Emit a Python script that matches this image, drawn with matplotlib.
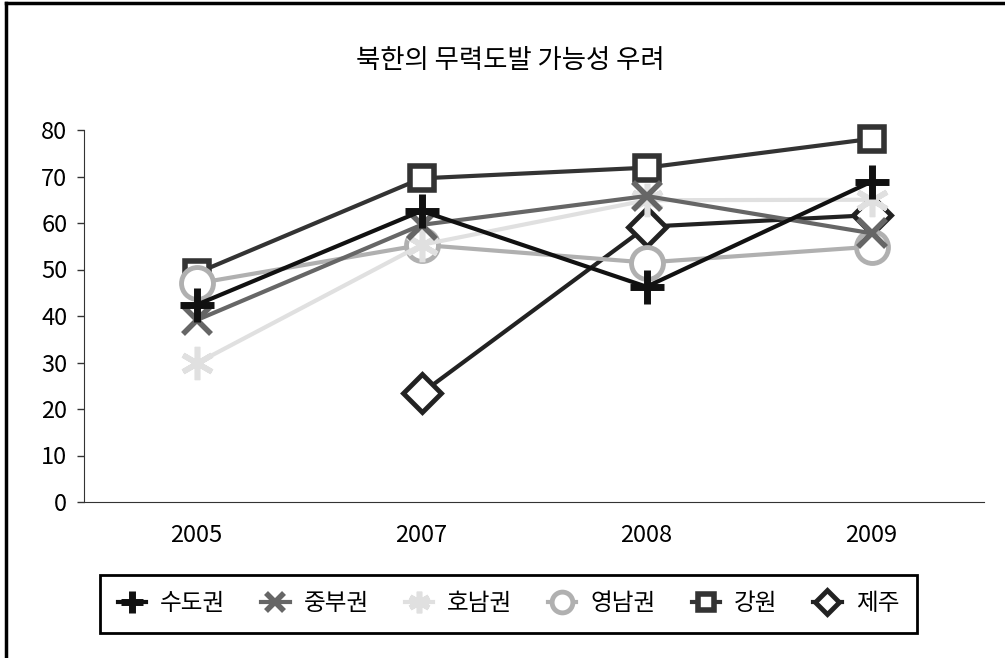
import matplotlib
matplotlib.use('Agg')
import matplotlib.pyplot as plt
from matplotlib.lines import Line2D

plt.rcParams['font.family'] = ['Noto Sans CJK KR', 'DejaVu Sans']

# data
years = ['2005', '2007', '2008', '2009']
sudo = [42.4, 62.6, 46.3, 68.9]
jungbu = [39.1, 59.6, 65.8, 57.8]
honam = [29.8, 55.3, 64.9, 65.0]
yeongnam = [47.0, 55.3, 51.5, 54.9]
gangwon = [49.2, 69.6, 71.9, 78.1]
jeju = [None, 23.4, 59.2, 61.7]

labels = ['수도권', '중부권', '호남권', '영남권', '강원', '제주']
series = [sudo, jungbu, honam, yeongnam, gangwon, jeju]
colors = ['#111111', '#666666', '#e0e0e0', '#b0b0b0', '#333333', '#222222']
markers = ['+', 'x', (6, 2, 0), 'o', 's', 'D']
msizes = [24, 20, 24, 23, 17, 19]
mews = [5, 4, 4, 3.5, 4, 3.5]

fig = plt.figure(figsize=(10.05, 6.58), dpi=100)
ax = fig.add_axes([84/1005, 1-502/658, 900/1005, 372/658])

x = range(len(years))
n = len(series)
for i, (vals, lab) in enumerate(zip(series, labels)):
  xs = [xi for xi, v in zip(x, vals) if v is not None]
  ys = [v for v in vals if v is not None]
  ax.plot(xs, ys, color=colors[i], lw=3, marker=markers[i], ms=msizes[i],
          mew=mews[i], mfc='white' if markers[i] in ('o', 's', 'D') else colors[i],
          mec=colors[i], label=lab, zorder=10+n-i, clip_on=False)

ax.set_xlim(-0.5, 3.5)
ax.set_ylim(0, 80)
ax.set_yticks(range(0, 81, 10))
ax.set_xticks(list(x))
ax.set_xticklabels(years)
for s in ['top', 'right']:
  ax.spines[s].set_visible(False)
ax.spines['left'].set_color('#333333')
ax.spines['bottom'].set_color('#333333')
ax.tick_params(axis='y', length=5, width=1, color='#333333', pad=7, labelsize=17)
ax.tick_params(axis='x', length=0, pad=16, labelsize=17)

fig.text(510/1005, 1-61/658, '북한의 무력도발 가능성 우려', ha='center', va='center', fontsize=19)

leg = fig.legend(loc='center', ncol=6, mode='expand',
                 bbox_to_anchor=(100/1005, 1-633/658, 817/1005, 58/658),
                 fontsize=17, handlelength=1.2, handletextpad=0.6, columnspacing=0.5,
                 markerscale=0.65, fancybox=False, framealpha=1, borderpad=0.75,
                 borderaxespad=0)
leg.get_frame().set_edgecolor('black')
leg.get_frame().set_linewidth(2)

# outer frame (top and left visible)
fig.add_artist(Line2D([6/1005, 1], [1-3/658, 1-3/658], color='black', lw=2.5, transform=fig.transFigure))
fig.add_artist(Line2D([6/1005, 6/1005], [0, 1-3/658], color='black', lw=2.5, transform=fig.transFigure))

fig.savefig('out.png', dpi=100)
